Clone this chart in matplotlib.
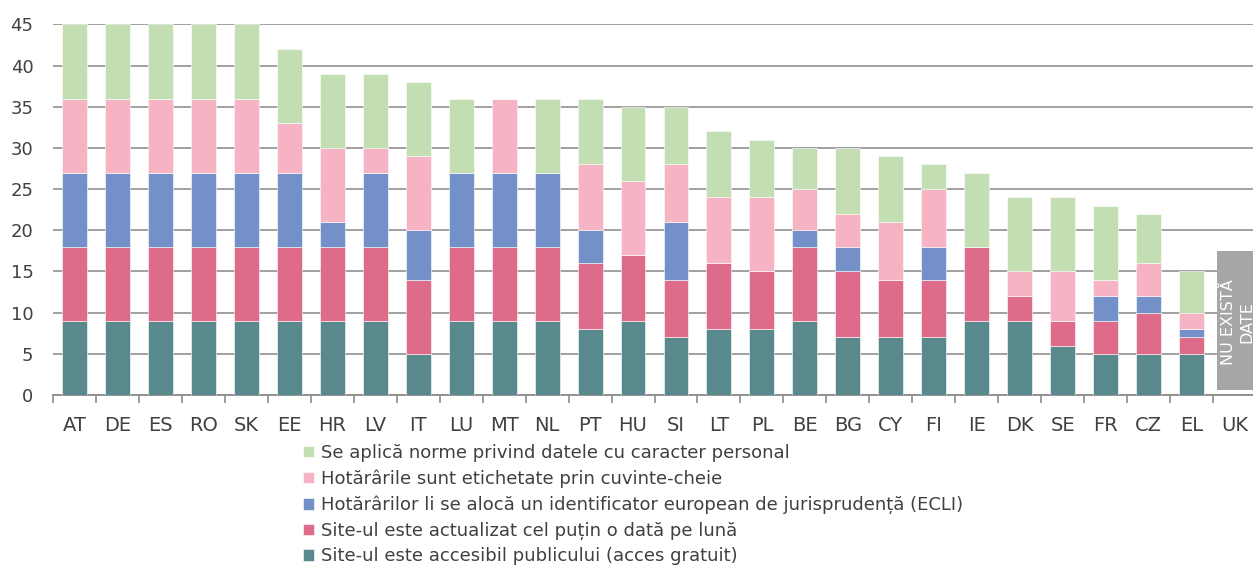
import numpy as np
import matplotlib
matplotlib.use("Agg")
import matplotlib.pyplot as plt
from matplotlib.patches import Rectangle

plt.rcParams['font.family'] = ['DejaVu Sans']

countries = ['AT', 'DE', 'ES', 'RO', 'SK', 'EE', 'HR', 'LV', 'IT', 'LU', 'MT', 'NL', 'PT', 'HU',
             'SI', 'LT', 'PL', 'BE', 'BG', 'CY', 'FI', 'IE', 'DK', 'SE', 'FR', 'CZ', 'EL', 'UK']

accesibil = [9, 9, 9, 9, 9, 9, 9, 9, 5, 9, 9, 9, 8, 9, 7, 8, 8, 9, 7, 7, 7, 9, 9, 6, 5, 5, 5, 0]
actualizat = [9, 9, 9, 9, 9, 9, 9, 9, 9, 9, 9, 9, 8, 8, 7, 8, 7, 9, 8, 7, 7, 9, 3, 3, 4, 5, 2, 0]
ecli = [9, 9, 9, 9, 9, 9, 3, 9, 6, 9, 9, 9, 4, 0, 7, 0, 0, 2, 3, 0, 4, 0, 0, 0, 3, 2, 1, 0]
cuvinte = [9, 9, 9, 9, 9, 6, 9, 3, 9, 0, 9, 0, 8, 9, 7, 8, 9, 5, 4, 7, 7, 0, 3, 6, 2, 4, 2, 0]
date_pers = [9, 9, 9, 9, 9, 9, 9, 9, 9, 9, 0, 9, 8, 9, 7, 8, 7, 5, 8, 8, 3, 9, 9, 9, 9, 6, 5, 0]

series = [
    (accesibil, '#59898d', 'Site-ul este accesibil publicului (acces gratuit)'),
    (actualizat, '#df6b8b', 'Site-ul este actualizat cel puțin o dată pe lună'),
    (ecli, '#7390c8', 'Hotărârilor li se alocă un identificator european de jurisprudență (ECLI)'),
    (cuvinte, '#f5b3c4', 'Hotărârile sunt etichetate prin cuvinte-cheie'),
    (date_pers, '#c3deb3', 'Se aplică norme privind datele cu caracter personal'),
]

fig = plt.figure(figsize=(12.53, 5.66), dpi=100)
ax = fig.add_axes([53 / 1253, 1 - 395 / 566, 1203 / 1253, (395 - 24.4) / 566])

x = np.arange(len(countries))
bottom = np.zeros(len(countries))
handles = []
for vals, color, label in series:
    vals = np.array(vals, dtype=float)
    b = ax.bar(x, vals, 0.58, bottom=bottom, color=color, label=label, zorder=3,
               edgecolor='white', linewidth=0.4)
    handles.append(b)
    bottom += vals

# caseta "nu exista date" pentru UK
i_uk = countries.index('UK')
ax.add_patch(Rectangle((i_uk - 0.4, 0.65), 1.0, 16.8, facecolor='#a6a6a6', edgecolor='none',
                       zorder=4, clip_on=False))
ax.text(i_uk + 0.08, 8.9, 'NU EXISTĂ\nDATE', rotation=90, ha='center', va='center', color='white',
        fontsize=11.5, zorder=5, linespacing=1.3)

ax.set_xlim(-0.5, len(countries) - 0.5)
ax.set_ylim(0, 45)
ax.set_yticks(range(0, 46, 5))
ax.set_xticks(x)
ax.set_xticklabels(countries)
ax.set_xticks(np.arange(-0.5, len(countries), 1), minor=True)
ax.tick_params(axis='x', which='major', length=0, pad=15, labelsize=14, labelcolor='#404040')
ax.tick_params(axis='x', which='minor', length=6, width=1.2, color='#8c8c8c')
ax.tick_params(axis='y', length=0, pad=14, labelsize=13, labelcolor='#404040')
ax.grid(axis='y', color='#999999', linewidth=1.3, zorder=0)
for s in ['left', 'right', 'top']:
    ax.spines[s].set_visible(False)
ax.spines['bottom'].set_color('#8c8c8c')
ax.spines['bottom'].set_linewidth(1.3)

fig.legend(handles[::-1], [s[2] for s in series][::-1], loc='upper left',
           bbox_to_anchor=(303 / 1253, 1 - 444 / 566), frameon=False, fontsize=13,
           handlelength=0.6, handleheight=0.6, handletextpad=0.4, labelspacing=0.42,
           borderaxespad=0, borderpad=0, labelcolor='#404040')

fig.savefig('out.png', dpi=100)
